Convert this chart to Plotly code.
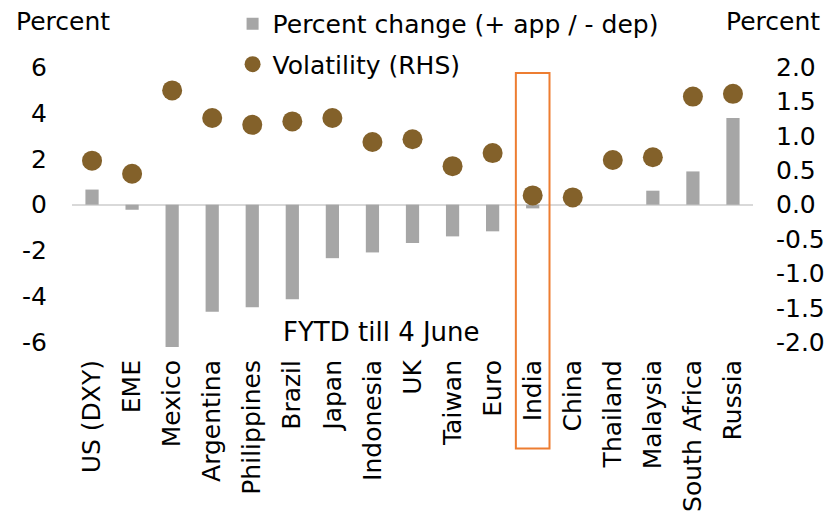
import plotly.graph_objects as go

categories = ["US (DXY)", "EME", "Mexico", "Argentina", "Philippines", "Brazil", "Japan",
              "Indonesia", "UK", "Taiwan", "Euro", "India", "China", "Thailand",
              "Malaysia", "South Africa", "Russia"]
pct_change = [0.66, -0.22, -6.2, -4.66, -4.47, -4.12, -2.33, -2.08, -1.67, -1.38, -1.16,
              -0.16, 0.0, 0.0, 0.61, 1.45, 3.78]
volatility = [0.64, 0.45, 1.66, 1.26, 1.16, 1.21, 1.26, 0.91, 0.95, 0.56, 0.75,
              0.135, 0.106, 0.65, 0.69, 1.57, 1.61]
left_ticks = [-6, -4, -2, 0, 2, 4, 6]
right_ticks = [-2.0, -1.5, -1.0, -0.5, 0.0, 0.5, 1.0, 1.5, 2.0]
highlight = "India"

FONT = "DejaVu Sans"
FS = 25

fig = go.Figure()
fig.add_trace(go.Bar(
    x=categories, y=pct_change, name="Percent change (+ app / - dep)",
    marker=dict(color="#A6A6A6", line=dict(width=0)), width=0.33,
    legendgroup="a", yaxis="y"))
fig.add_trace(go.Scatter(
    x=categories, y=volatility, name="Volatility (RHS)", mode="markers",
    marker=dict(color="#83612A", size=20), cliponaxis=False,
    legendgroup="b", yaxis="y2"))

n = len(categories)
idx = categories.index(highlight)
x0 = (idx + 0.5 - 0.42) / n
x1 = (idx + 0.5 + 0.42) / n

fig.update_layout(
    width=831, height=507,
    margin=dict(l=64, r=86, t=59, b=168.4, autoexpand=False),
    paper_bgcolor="white", plot_bgcolor="white",
    font=dict(family=FONT, size=FS, color="black"),
    showlegend=True,
    legend=dict(x=0.2358, xanchor="left", y=1.236, yanchor="top",
                font=dict(size=FS), tracegroupgap=5, traceorder="grouped",
                bgcolor="rgba(0,0,0,0)"),
    xaxis=dict(type="category", range=[-0.5, n - 0.5], tickangle=-90, automargin=False,
               showgrid=False, showline=False, ticks="", ticklabelstandoff=7,
               tickfont=dict(size=FS)),
    yaxis=dict(range=[-6.2, 6], tickvals=left_ticks, ticktext=[str(v) for v in left_ticks],
               automargin=False,
               showgrid=False, zeroline=True, zerolinecolor="#D9D9D9", zerolinewidth=2,
               showline=False, ticks="", ticklabelstandoff=24, tickfont=dict(size=FS)),
    yaxis2=dict(range=[-2.0667, 2.0], tickvals=right_ticks, automargin=False,
                ticktext=[f"{v:.1f}" for v in right_ticks], overlaying="y", side="right",
                showgrid=False, zeroline=False, showline=False, ticks="",
                ticklabelstandoff=22, tickfont=dict(size=FS)),
    annotations=[
        dict(text="Percent", xref="paper", yref="paper", x=-0.0132, y=1.163,
             xanchor="center", yanchor="middle", showarrow=False, font=dict(size=FS)),
        dict(text="Percent", xref="paper", yref="paper", x=1.030, y=1.163,
             xanchor="center", yanchor="middle", showarrow=False, font=dict(size=FS)),
        dict(text="FYTD till 4 June", xref="paper", yref="paper", x=0.4545, y=0.0519,
             xanchor="center", yanchor="middle", showarrow=False, font=dict(size=26)),
    ],
    shapes=[dict(type="rect", xref="paper", yref="paper", x0=x0, x1=x1,
                 y0=-0.3623, y1=0.9785, line=dict(color="#ED7D31", width=2),
                 fillcolor="rgba(0,0,0,0)")],
)

fig.write_html("out.html")
